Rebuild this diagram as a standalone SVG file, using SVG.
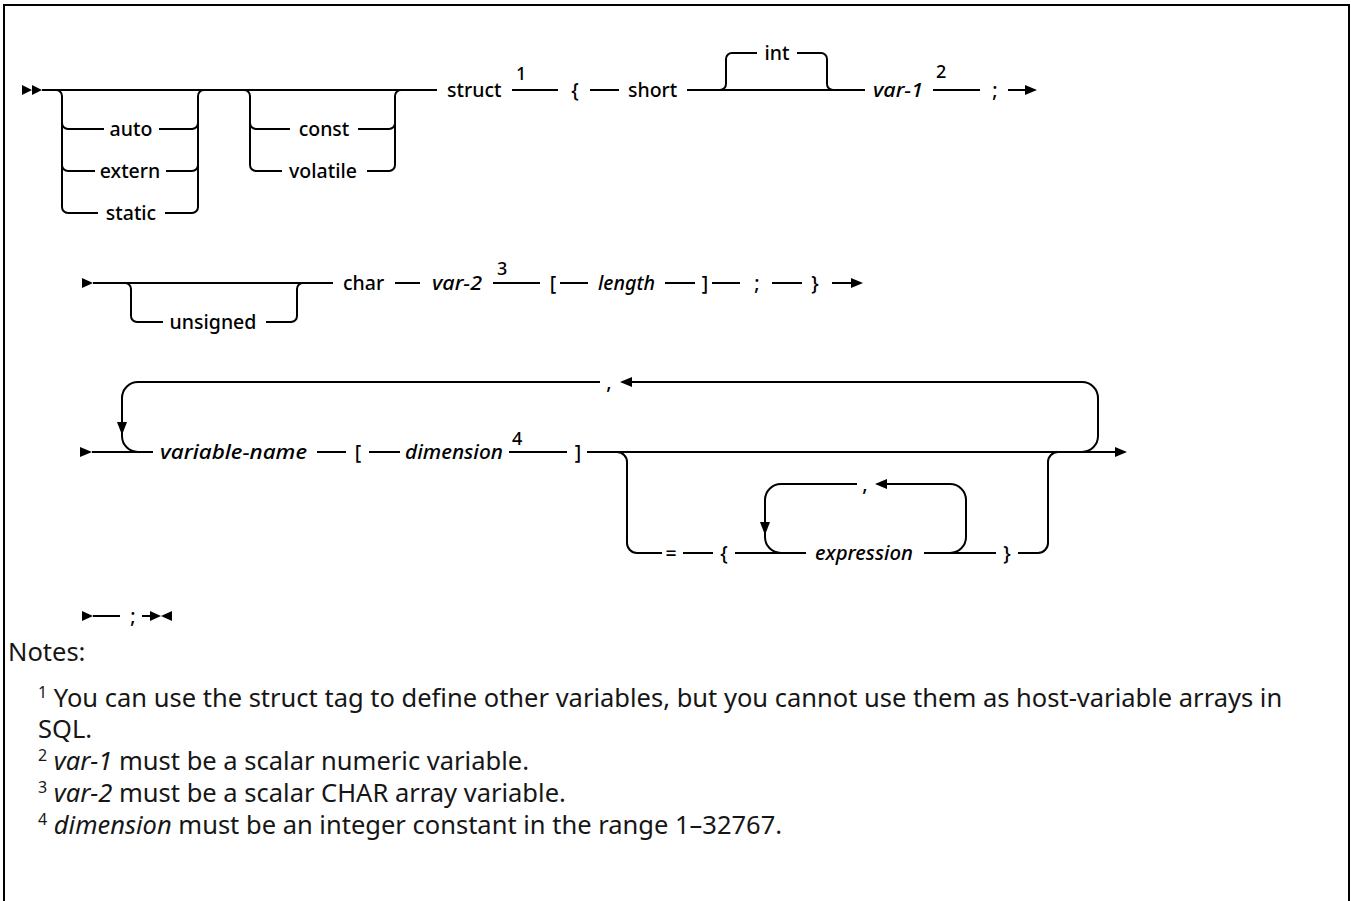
<svg xmlns="http://www.w3.org/2000/svg" width="1351" height="901" viewBox="0 0 1351 901">
<style>
.ln{stroke:#000;stroke-width:2;fill:none}
.ah{fill:#000;stroke:none}
.t{font-family:"Noto Sans","Open Sans",sans-serif;font-size:19.5px;font-weight:500;fill:#000}
.i{font-style:italic;font-size:20.5px}
.m{text-anchor:middle}
.r{font-size:18px}
.n{font-family:"Noto Sans","Open Sans",sans-serif;font-size:25.5px;fill:#161616}
.s{font-size:16px}
</style>
<rect x="4" y="5" width="1345" height="1000" fill="#fff" stroke="#000" stroke-width="2"/>
<g id="connectors">
<!-- row 1 -->
<polygon class="ah" points="22,85 32,90 22,95"/>
<polygon class="ah" points="32,85 42,90 32,95"/>
<path class="ln" d="M42,90 H437"/>
<path class="ln" d="M56,90 A6,6 0 0 1 62,96 V207 A6,6 0 0 0 68,213 H98"/>
<path class="ln" d="M62,123 A6,6 0 0 0 68,129 H104"/>
<path class="ln" d="M62,165 A6,6 0 0 0 68,171 H95"/>
<path class="ln" d="M159,129 H192 A6,6 0 0 0 198,123"/>
<path class="ln" d="M166,171 H192 A6,6 0 0 0 198,165"/>
<path class="ln" d="M165,213 H192 A6,6 0 0 0 198,207 V96 A6,6 0 0 1 204,90"/>
<path class="ln" d="M244,90 A6,6 0 0 1 250,96 V165 A6,6 0 0 0 256,171 H282"/>
<path class="ln" d="M250,123 A6,6 0 0 0 256,129 H290"/>
<path class="ln" d="M358,129 H389 A6,6 0 0 0 395,123"/>
<path class="ln" d="M367,171 H389 A6,6 0 0 0 395,165 V96 A6,6 0 0 1 401,90"/>
<path class="ln" d="M512,90 H558"/>
<path class="ln" d="M590,90 H619"/>
<path class="ln" d="M687,90 H865"/>
<path class="ln" d="M720,90 A6,6 0 0 0 726,84 V59 A6,6 0 0 1 732,53 H757"/>
<path class="ln" d="M797,53 H821 A6,6 0 0 1 827,59 V84 A6,6 0 0 0 833,90"/>
<path class="ln" d="M933,90 H980"/>
<path class="ln" d="M1008,90 H1027"/>
<polygon class="ah" points="1025,85 1037,90 1025,95"/>
<!-- row 2 -->
<polygon class="ah" points="82,278 93,283 82,288"/>
<path class="ln" d="M93,283 H333"/>
<path class="ln" d="M125,283 A6,6 0 0 1 131,289 V316 A6,6 0 0 0 137,322 H163"/>
<path class="ln" d="M266,322 H291 A6,6 0 0 0 297,316 V289 A6,6 0 0 1 303,283"/>
<path class="ln" d="M395,283 H420"/>
<path class="ln" d="M493,283 H540"/>
<path class="ln" d="M560,283 H588"/>
<path class="ln" d="M665,283 H695"/>
<path class="ln" d="M712,283 H740"/>
<path class="ln" d="M772,283 H802"/>
<path class="ln" d="M832,283 H853"/>
<polygon class="ah" points="851,278 863,283 851,288"/>
<!-- row 3 -->
<polygon class="ah" points="80,447 92,452 80,457"/>
<path class="ln" d="M92,452 H153"/>
<path class="ln" d="M600,382 H138 A16,16 0 0 0 122,398 V436 A16,16 0 0 0 138,452"/>
<polygon class="ah" points="117,422 127,422 122,435"/>
<path class="ln" d="M317,452 H346"/>
<path class="ln" d="M369,452 H400"/>
<path class="ln" d="M509,452 H567"/>
<path class="ln" d="M587,452 H1117"/>
<polygon class="ah" points="1115,447 1127,452 1115,457"/>
<path class="ln" d="M1082,452 A16,16 0 0 0 1098,436 V398 A16,16 0 0 0 1082,382 H630"/>
<polygon class="ah" points="632,377 620,382 632,387"/>
<path class="ln" d="M617,452 A10,10 0 0 1 627,462 V543 A10,10 0 0 0 637,553 H662"/>
<path class="ln" d="M683,553 H713"/>
<path class="ln" d="M735,553 H806"/>
<path class="ln" d="M857,484 H781 A16,16 0 0 0 765,500 V537 A16,16 0 0 0 781,553"/>
<polygon class="ah" points="760,522 770,522 765,535"/>
<path class="ln" d="M924,553 H996"/>
<path class="ln" d="M950,553 A16,16 0 0 0 966,537 V500 A16,16 0 0 0 950,484 H885"/>
<polygon class="ah" points="887,479 875,484 887,489"/>
<path class="ln" d="M1018,553 H1038 A10,10 0 0 0 1048,543 V462 A10,10 0 0 1 1058,452"/>
<!-- row 4 -->
<polygon class="ah" points="82,611 93,616 82,621"/>
<path class="ln" d="M93,616 H120"/>
<path class="ln" d="M142,616 H151"/>
<polygon class="ah" points="150,611 161,616 150,621"/>
<polygon class="ah" points="172,611 161,616 172,621"/>
</g>
<g id="row1">
<text class="t m" x="131" y="136">auto</text>
<text class="t m" x="130" y="178">extern</text>
<text class="t m" x="131" y="220">static</text>
<text class="t m" x="324" y="136">const</text>
<text class="t m" x="323" y="178">volatile</text>
<text class="t" x="447" y="97">struct</text>
<text class="t r" x="516" y="80">1</text>
<text class="t m" x="575" y="97">{</text>
<text class="t" x="628" y="97">short</text>
<text class="t m" x="777" y="60">int</text>
<text class="t i" x="873" y="97" textLength="50" lengthAdjust="spacingAndGlyphs">var-1</text>
<text class="t r" x="936" y="78">2</text>
<text class="t m" x="995" y="97">;</text>
</g>
<g id="row2">
<text class="t m" x="213" y="329">unsigned</text>
<text class="t" x="343" y="290">char</text>
<text class="t i" x="432" y="290" textLength="50" lengthAdjust="spacingAndGlyphs">var-2</text>
<text class="t r" x="497" y="275">3</text>
<text class="t m" x="553" y="290">[</text>
<text class="t i" x="598" y="290" textLength="57" lengthAdjust="spacingAndGlyphs">length</text>
<text class="t m" x="705" y="290">]</text>
<text class="t m" x="757" y="290">;</text>
<text class="t m" x="815" y="290">}</text>
</g>
<g id="row3">
<text class="t i" x="160" y="459" textLength="147" lengthAdjust="spacingAndGlyphs">variable-name</text>
<text class="t m" x="358" y="459">[</text>
<text class="t i" x="405" y="459" textLength="98" lengthAdjust="spacingAndGlyphs">dimension</text>
<text class="t r" x="512" y="445">4</text>
<text class="t m" x="578" y="459">]</text>
<text class="t m" x="609" y="389">,</text>
<text class="t m" x="671" y="560">=</text>
<text class="t m" x="724" y="560">{</text>
<text class="t i" x="815" y="560" textLength="98" lengthAdjust="spacingAndGlyphs">expression</text>
<text class="t m" x="865" y="491">,</text>
<text class="t m" x="1007" y="560">}</text>
</g>
<g id="row4">
<text class="t m" x="133" y="623">;</text>
</g>
<g id="notes">
<text class="n" x="8" y="661">Notes:</text>
<text class="n" x="38" y="707"><tspan class="s" dy="-9">1</tspan><tspan dy="9"> You can use the struct tag to define other variables, but you cannot use them as host-variable arrays in</tspan></text>
<text class="n" x="38" y="738">SQL.</text>
<text class="n" x="38" y="770"><tspan class="s" dy="-9">2</tspan><tspan dy="9"> </tspan><tspan font-style="italic">var-1</tspan> must be a scalar numeric variable.</text>
<text class="n" x="38" y="802"><tspan class="s" dy="-9">3</tspan><tspan dy="9"> </tspan><tspan font-style="italic">var-2</tspan> must be a scalar CHAR array variable.</text>
<text class="n" x="38" y="834"><tspan class="s" dy="-9">4</tspan><tspan dy="9"> </tspan><tspan font-style="italic">dimension</tspan> must be an integer constant in the range 1–32767.</text>
</g>
</svg>
